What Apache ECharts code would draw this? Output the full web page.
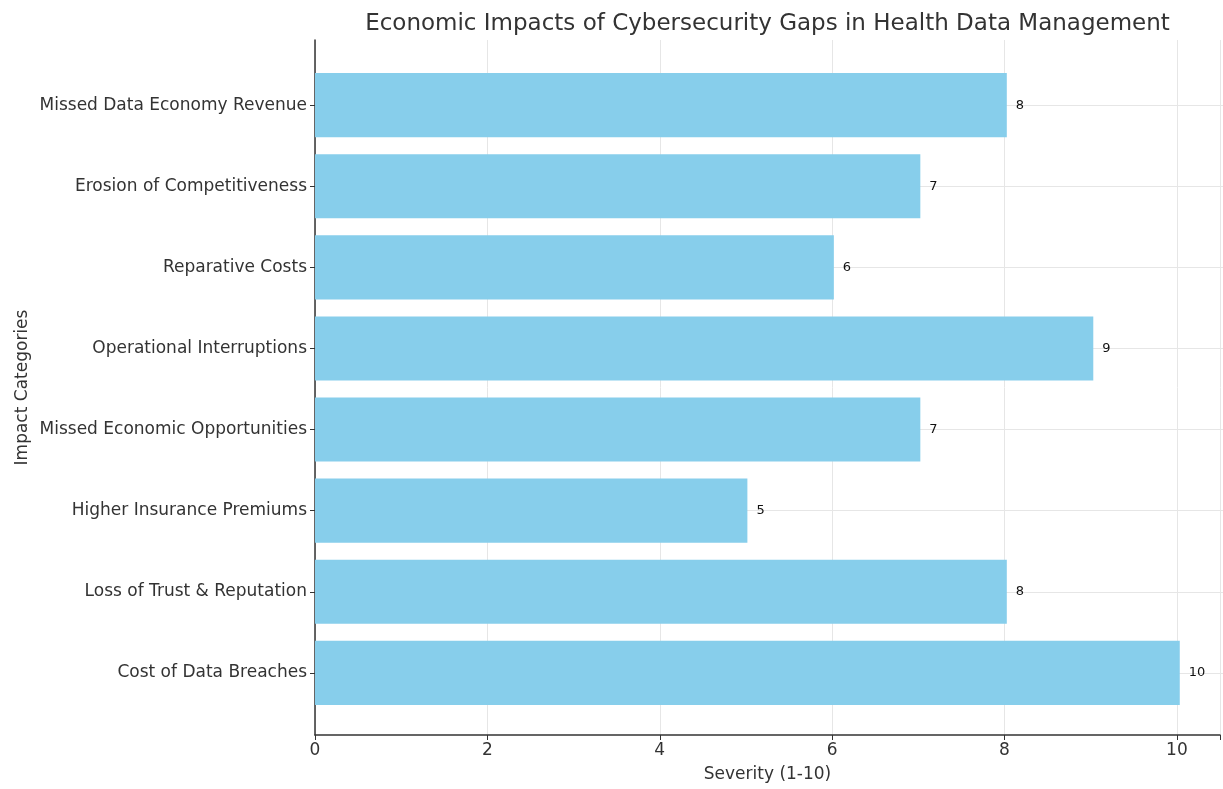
<!DOCTYPE html>
<html><head><meta charset="utf-8">
<script src="https://cdn.jsdelivr.net/npm/echarts@6/dist/echarts.min.js"></script>
<style>html,body{margin:0;padding:0;background:#fff}#c{width:1223px;height:789px}</style>
</head><body><div id="c"></div>
<script>
const categories = ["Cost of Data Breaches","Loss of Trust & Reputation","Higher Insurance Premiums","Missed Economic Opportunities","Operational Interruptions","Reparative Costs","Erosion of Competitiveness","Missed Data Economy Revenue"];
const severity = [10, 8, 5, 7, 9, 6, 7, 8];
const xTicks = [0, 2, 4, 6, 8, 10];

const FONT = "DejaVu Sans";
const L = 315, W = 909, TOP = 40, BOT = 735;
const n = categories.length;
const band = 81.1;
const mid = (105 + 673) / 2;
const catTop = mid - band * n / 2, catBot = mid + band * n / 2;

const chart = echarts.init(document.getElementById('c'));
chart.setOption({
  backgroundColor: '#fff',
  animation: false,
  title: {
    text: 'Economic Impacts of Cybersecurity Gaps in Health Data Management',
    left: L + W / 2 - 7, top: 8, textAlign: 'center',
    textStyle: { fontFamily: FONT, fontSize: 23, fontWeight: 'normal', color: '#333' }
  },
  grid: [
    { left: L, width: W, top: catTop, height: catBot - catTop, containLabel: false },
    { left: L, width: W, top: TOP, height: BOT - TOP, containLabel: false }
  ],
  xAxis: [
    { gridIndex: 0, type: 'value', min: 0, max: 10.5, show: false },
    { gridIndex: 1, type: 'value', min: 0, max: 10.5, interval: 2,
      name: 'Severity (1-10)', nameLocation: 'middle', nameGap: 31,
      nameTextStyle: { fontFamily: FONT, fontSize: 17, color: '#333' },
      axisLine: { show: true, lineStyle: { color: '#333', width: 1.5 } },
      axisTick: { show: true, length: 5, lineStyle: { color: '#333' } },
      axisLabel: { fontFamily: FONT, fontSize: 17, color: '#333', margin: 7,
        formatter: v => xTicks.includes(v) ? String(v) : '' },
      splitLine: { show: true, lineStyle: { color: '#e6e6e6', width: 1 } }
    }
  ],
  yAxis: [
    { gridIndex: 0, type: 'category', data: categories,
      axisLine: { show: false },
      axisTick: { show: true, alignWithLabel: true, length: 5, lineStyle: { color: '#333' } },
      axisLabel: { fontFamily: FONT, fontSize: 17, color: '#333', margin: 8 },
      splitLine: { show: false }
    },
    { gridIndex: 1, type: 'value', min: 0, max: 1,
      name: 'Impact Categories', nameLocation: 'middle', nameGap: 284, nameRotate: 90,
      nameTextStyle: { fontFamily: FONT, fontSize: 17, color: '#333' },
      axisLine: { show: true, lineStyle: { color: '#333', width: 1.5 } },
      axisTick: { show: false }, axisLabel: { show: false }, splitLine: { show: false }
    }
  ],
  series: [{
    type: 'bar', xAxisIndex: 0, yAxisIndex: 0,
    data: severity, barWidth: '79%',
    itemStyle: { color: '#87CEEB' },
    label: { show: true, position: 'right', distance: 9,
      fontFamily: FONT, fontSize: 13, color: '#111' },
    markLine: {
      silent: true, symbol: 'none', z: 0,
      label: { show: false },
      lineStyle: { color: '#e6e6e6', width: 1, type: 'solid' },
      data: categories.map(c => ({ yAxis: c }))
    }
  }]
});
</script></body></html>
